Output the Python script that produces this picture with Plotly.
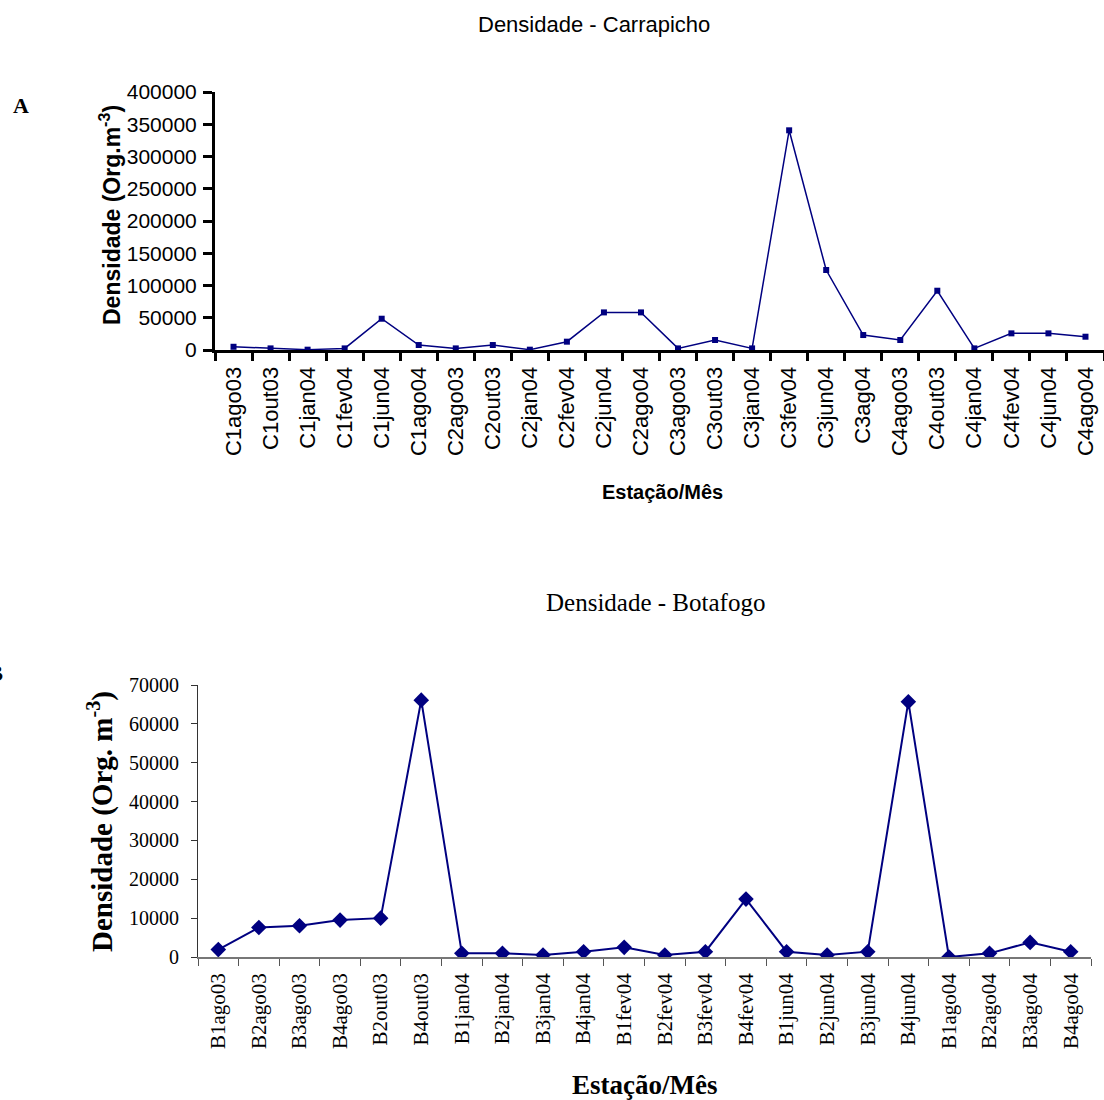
import plotly.graph_objects as go

# ---- Data: Carrapicho (A) ----
cat_a = ["C1ago03", "C1out03", "C1jan04", "C1fev04", "C1jun04", "C1ago04",
         "C2ago03", "C2out03", "C2jan04", "C2fev04", "C2jun04", "C2ago04",
         "C3ago03", "C3out03", "C3jan04", "C3fev04", "C3jun04", "C3ag04",
         "C4ago03", "C4out03", "C4jan04", "C4fev04", "C4jun04", "C4ago04"]
val_a = [5000, 2500, 500, 2500, 48500, 7700,
         2500, 7700, 500, 12900, 58300, 58300,
         2500, 15500, 2500, 340600, 124000, 23200,
         15500, 91900, 2500, 25800, 25800, 20600]
yticks_a = [0, 50000, 100000, 150000, 200000, 250000, 300000, 350000, 400000]

# ---- Data: Botafogo (B) ----
cat_b = ["B1ago03", "B2ago03", "B3ago03", "B4ago03", "B2out03", "B4out03",
         "B1jan04", "B2jan04", "B3jan04", "B4jan04", "B1fev04", "B2fev04",
         "B3fev04", "B4fev04", "B1jun04", "B2jun04", "B3jun04", "B4jun04",
         "B1ago04", "B2ago04", "B3ago04", "B4ago04"]
val_b = [1900, 7600, 8050, 9500, 10000, 66100,
         950, 950, 500, 1370, 2480, 500,
         1370, 14900, 1370, 500, 1370, 65700,
         0, 940, 3760, 1370]
yticks_b = [0, 10000, 20000, 30000, 40000, 50000, 60000, 70000]

W, H = 1104, 1100
NAVY = "#000080"
SANS = "Liberation Sans, Arial, sans-serif"
SERIF = "Liberation Serif, Times New Roman, serif"


def px(x):
    return x / W


def py(y):
    return 1 - y / H


fig = go.Figure()
fig.add_trace(go.Scatter(x=cat_a, y=val_a, mode="lines+markers",
                         line=dict(color=NAVY, width=1.5),
                         marker=dict(symbol="square", size=6, color=NAVY),
                         xaxis="x", yaxis="y"))
fig.add_trace(go.Scatter(x=cat_b, y=val_b, mode="lines+markers",
                         line=dict(color=NAVY, width=2),
                         marker=dict(symbol="diamond", size=12, color=NAVY),
                         xaxis="x2", yaxis="y2"))

fig.update_layout(
    width=W, height=H,
    margin=dict(l=0, r=0, t=0, b=0, autoexpand=False),
    paper_bgcolor="white", plot_bgcolor="white",
    showlegend=False,
    xaxis=dict(domain=[px(215), px(1104)], anchor="y", automargin=False,
               type="category", range=[-0.5, len(cat_a) - 0.5],
               tickson="boundaries", ticks="outside", ticklen=8, tickwidth=2.5,
               tickcolor="black", showline=True, linecolor="black", linewidth=3,
               tickangle=-90, showgrid=False, zeroline=False,
               tickfont=dict(family=SANS, size=22, color="black"),
               ticklabelstandoff=5),
    yaxis=dict(domain=[py(350), py(92)], anchor="x", automargin=False,
               range=[0, 400000], tickvals=yticks_a,
               ticktext=[str(v) for v in yticks_a],
               ticks="outside", ticklen=9, tickwidth=2.5, tickcolor="black",
               showline=True, linecolor="black", linewidth=3,
               showgrid=False, zeroline=False,
               tickfont=dict(family=SANS, size=21, color="black"),
               ticklabelstandoff=2),
    xaxis2=dict(domain=[px(198), px(1091)], anchor="y2", automargin=False,
                type="category", range=[-0.5, len(cat_b) - 0.5],
                tickson="boundaries", ticks="outside", ticklen=7, tickwidth=1,
                tickcolor="#555555", showline=True, linecolor="#777777", linewidth=1.5,
                tickangle=-90, showgrid=False, zeroline=False,
                tickfont=dict(family=SERIF, size=21, color="black"),
                ticklabelstandoff=6),
    yaxis2=dict(domain=[py(957), py(685)], anchor="x2", automargin=False,
                range=[0, 70000], tickvals=yticks_b,
                ticktext=[str(v) for v in yticks_b],
                ticks="outside", ticklen=6, tickwidth=1, tickcolor="#333333",
                showline=True, linecolor="#333333", linewidth=1,
                showgrid=False, zeroline=False,
                tickfont=dict(family=SERIF, size=20, color="black"),
                ticklabelstandoff=8),
)

ann = [
    # Chart A
    dict(text="Densidade - Carrapicho", x=px(594), y=py(25),
         font=dict(family=SANS, size=22, color="black")),
    dict(text="<b>Densidade (Org.m<sup>-3</sup>)</b>", x=px(110), y=py(215),
         textangle=-90, font=dict(family=SANS, size=23, color="black")),
    dict(text="<b>Estação/Mês</b>", x=px(662), y=py(492),
         font=dict(family=SANS, size=20, color="black")),
    dict(text="<b>A</b>", x=px(21), y=py(105),
         font=dict(family=SERIF, size=22, color="black")),
    # Chart B
    dict(text="Densidade - Botafogo", x=px(655), y=py(602),
         font=dict(family=SERIF, size=25, color="black")),
    dict(text="<b>Densidade (Org. m<sup>-3</sup>)</b>", x=px(100), y=py(822),
         textangle=-90, font=dict(family=SERIF, size=29, color="black")),
    dict(text="<b>Estação/Mês</b>", x=px(644), y=py(1085),
         font=dict(family=SERIF, size=27, color="black")),
    dict(text="<b>B</b>", x=px(5), y=py(673), xanchor="right",
         font=dict(family=SERIF, size=24, color="black")),
]
for a in ann:
    a.setdefault("xanchor", "center")
    a.update(xref="paper", yref="paper", yanchor="middle", showarrow=False)
    fig.add_annotation(**a)

fig.write_html("out.html",
               config={"displayModeBar": False},
               post_script="document.body.style.margin='0';"
                           "document.body.style.overflow='hidden';")
